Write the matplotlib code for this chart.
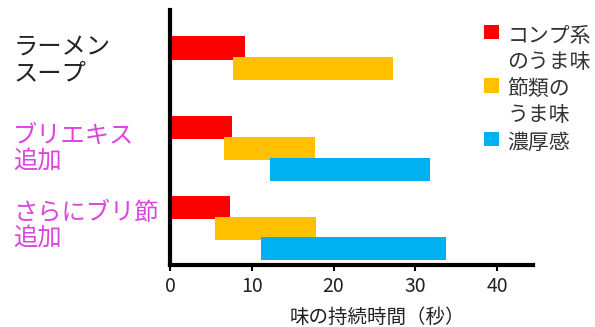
import matplotlib.pyplot as plt
from matplotlib.patches import Patch
import matplotlib.transforms as mtransforms

plt.rcParams['font.family'] = ['Noto Sans CJK JP', 'DejaVu Sans']

# groups top to bottom
groups = ['ラーメン\nスープ', 'ブリエキス\n追加', 'さらにブリ節\n追加']
group_colors = ['#222222', '#DD44DD', '#DD44DD']

series = ['コンプ系\nのうま味', '節類の\nうま味', '濃厚感']
series_colors = ['#FF0000', '#FFC000', '#00B0F0']

# (start, end) in seconds, None = no bar
kombu = [(0, 9.2), (0, 7.6), (0, 7.4)]
bushi = [(7.7, 27.3), (6.6, 17.7), (5.5, 17.9)]
noukou = [None, (12.2, 31.8), (11.1, 33.8)]
spans = [kombu, bushi, noukou]

xticks = [0, 10, 20, 30, 40]

fig = plt.figure(figsize=(5.95, 3.27), dpi=100)
ax = fig.add_axes([0.2857, 0.19, 0.6101, 0.779])

step = 0.26
h = 0.29
for k, (vals, col) in enumerate(zip(spans, series_colors)):
    for i, v in enumerate(vals):
        if v is None:
            continue
        y = i + k * step
        ax.barh(y, v[1] - v[0], left=v[0], height=h, color=col, linewidth=0)

ax.set_xlim(0, 44.4)
ax.set_ylim(2.72, -0.475)
ax.set_yticks([])
ax.set_xticks(xticks)
ax.tick_params(axis='x', labelsize=14, length=4, width=1.5, pad=4, labelcolor='#222222')
for s in ['top', 'right']:
    ax.spines[s].set_visible(False)
for s in ['left', 'bottom']:
    ax.spines[s].set_linewidth(3)
    ax.spines[s].set_color('black')
ax.set_xlabel('味の持続時間（秒）', fontsize=14, color='#222222')
ax.xaxis.set_label_coords(0.57, -0.165)

# group labels on the left
trans = mtransforms.blended_transform_factory(fig.transFigure, ax.transData)
centers = [0.15, 1.26, 2.23]
for lab, col, c in zip(groups, group_colors, centers):
    ax.text(0.022, c, lab, transform=trans, ha='left', va='center',
            fontsize=17.5, color=col, linespacing=1.0)

handles = [Patch(facecolor=c, edgecolor='none') for c in series_colors]
leg = fig.legend(handles, series, loc='upper left', bbox_to_anchor=(0.8, 0.95),
                 frameon=False, fontsize=15, handlelength=0.7, handleheight=0.7,
                 handletextpad=0.4, labelspacing=0.25, borderaxespad=0,
                 labelcolor='#333333')
for t in leg.get_texts():
    t.set_linespacing(1.25)
# put the square next to the first line of each label
for col in leg._legend_handle_box.get_children():
    for item in col.get_children():
        item.align = 'top'

fig.savefig('out.png', dpi=100)
